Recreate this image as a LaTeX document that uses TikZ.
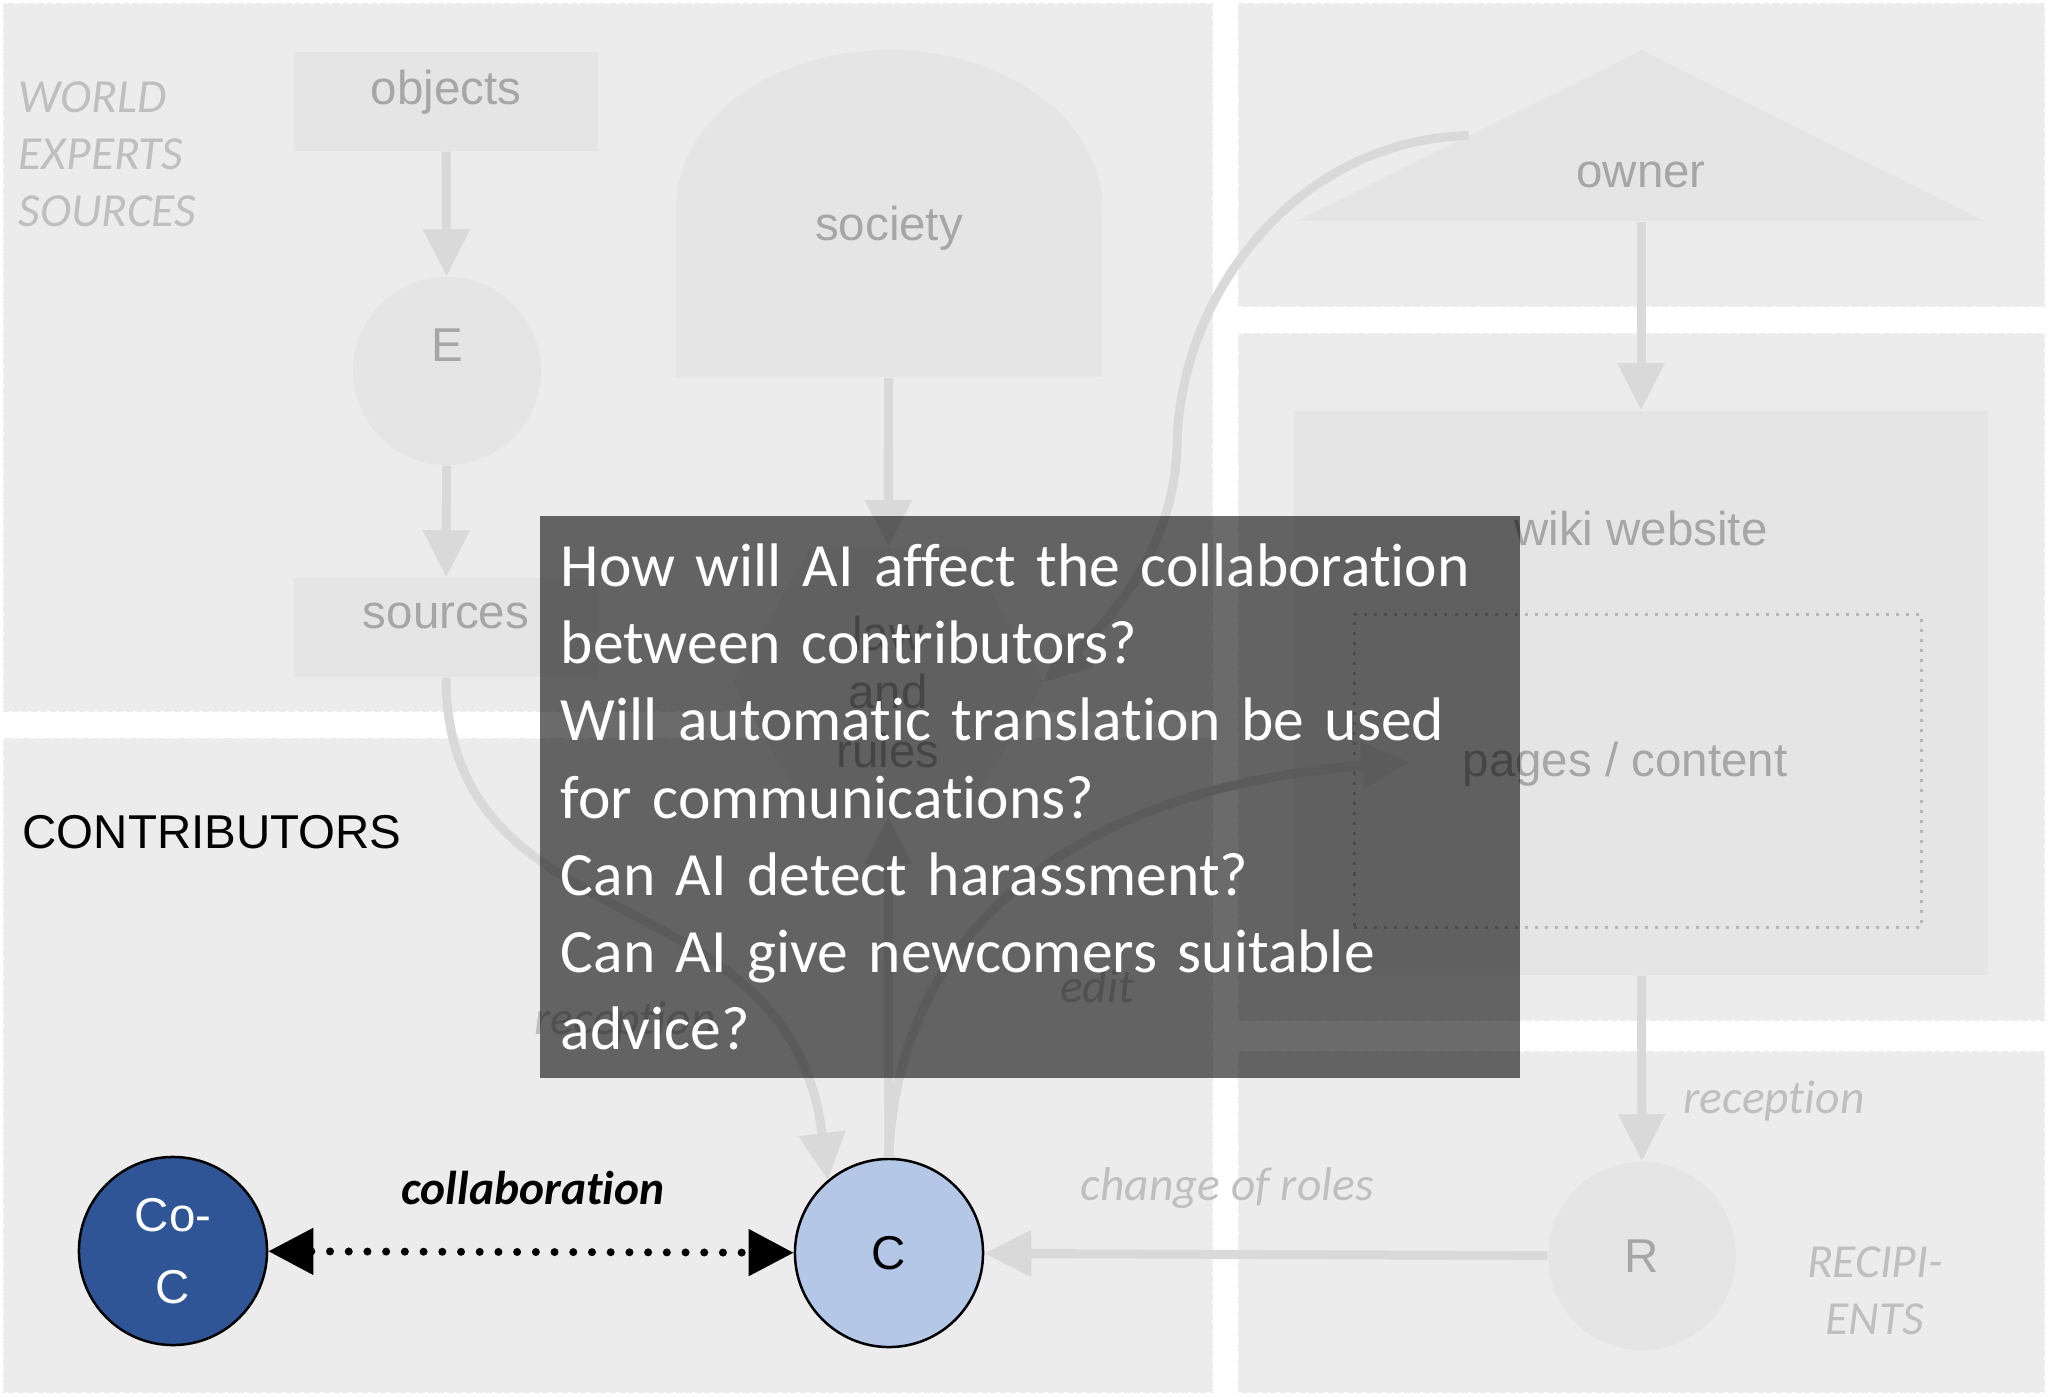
\documentclass[tikz,border=0pt]{standalone}
\usepackage{fontspec}
\setmainfont{Liberation Sans}
\newfontfamily\calibri[Ligatures=NoCommon]{Carlito}
\usetikzlibrary{arrows.meta,shapes.geometric,calc}
\definecolor{panelgray}{HTML}{ECECEC}
\definecolor{shapegray}{HTML}{E5E5E5}
\definecolor{textgray}{HTML}{A6A6A6}
\definecolor{labelgray}{HTML}{BFBFBF}
\definecolor{dotgray}{HTML}{B5B5B5}
\definecolor{arrowgray}{HTML}{D9D9D9}
\definecolor{codark}{HTML}{2F5597}
\definecolor{colight}{HTML}{B4C7E7}

\begin{document}
\begin{tikzpicture}
[x=0.01cm, y=-0.01cm,
panel/.style={fill=panelgray, draw=white, dotted, line width=0.025cm},
shapebox/.style={fill=shapegray, inner sep=0pt},
shapetext/.style={text=textgray, font=\fontsize{13.5}{16.5}\selectfont},
flow/.style={draw=arrowgray, line width=0.09cm, -{Triangle[width=0.45cm,length=0.47cm]}},
tag/.style={text=labelgray, inner sep=0pt, font=\calibri\itshape\fontsize{13.5}{16.2}\selectfont},
actor/.style={circle, draw=black, line width=0.025cm, minimum size=1.88cm, inner sep=0pt, font=\fontsize{13.5}{16}\selectfont},
collab/.style={draw=black, line width=0.08cm, line cap=round, dash pattern=on 0pt off 0.187cm,
  {Triangle[width=0.45cm,length=0.45cm]}-{Triangle[width=0.45cm,length=0.45cm]}}]
\useasboundingbox (0,0) rectangle (2048,1397);
\fill[white] (0,0) rectangle (2048,1397);

\draw[panel] (3,3) rectangle (1213,712);
\draw[panel] (3,738) rectangle (1213,1393);
\draw[panel] (1238,3) rectangle (2045,307);
\draw[panel] (1238,333) rectangle (2045,1021);
\draw[panel] (1238,1051) rectangle (2045,1393);

\node[shapebox, minimum width=3.03cm, minimum height=0.99cm, label={[shapetext, yshift=0.095cm]center:objects}] (objects) at (446,101.5) {};
\node[shapebox, circle, minimum size=1.88cm, label={[shapetext, yshift=0.26cm]center:E}] (E) at (447,371) {};
\node[shapebox, minimum width=3.03cm, minimum height=0.99cm, label={[shapetext, yshift=0.115cm]center:sources}] (sources) at (446,627.5) {};

\fill[shapegray] (676,377) -- (676,208) arc[start angle=180, end angle=0, x radius=2.13cm, y radius=1.58cm] -- (1102,377) -- cycle;
\node[minimum width=4.26cm, minimum height=3.27cm, inner sep=0pt, label={[shapetext, yshift=-0.145cm]center:society}] (society) at (889,213.5) {};
\node[shapebox, regular polygon, regular polygon sides=6, minimum size=3.1cm, label={[shapetext, align=center, yshift=-0.1cm]center:law\\and\\rules}] (law) at (888,682) {};

\fill[shapegray] (1297,221) -- (1642,50) -- (1985,221) -- cycle;
\node[minimum width=6.88cm, minimum height=1.71cm, inner sep=0pt, label={[shapetext, yshift=-0.39cm]center:owner}] (owner) at (1641,135.5) {};
\node[shapebox, minimum width=6.93cm, minimum height=5.64cm, label={[shapetext, yshift=1.64cm]center:wiki website}] (wiki) at (1641,693) {};
\node[draw=dotgray, dotted, line width=0.03cm, minimum width=5.67cm, minimum height=3.13cm, label={[shapetext, xshift=-0.13cm, yshift=0.07cm]center:pages / content}] (pages) at (1638,771) {};
\node[shapebox, circle, minimum size=1.88cm, shapetext] (R) at (1642,1256) {R};

\node[actor, fill=codark, text=white, align=center, font=\fontsize{13.5}{20.5}\selectfont] (CoC) at (173,1251) {Co-\\C};
\node[actor, fill=colight] (C) at (889,1253) {C};

\draw[flow] (objects) -- (E);
\draw[flow] (E) -- (sources);
\draw[flow] (society) -- (law);
\draw[flow] (owner) -- (wiki);
\draw[flow] (wiki) -- (R);
\draw[flow] (R) -- (C);
\draw[flow] (C) -- (law);
\draw[flow] (sources.south) .. controls (447,950) and (790,870) .. (C.130);
\draw[flow] (C.north) .. controls (895,950) and (1050,790) .. ([xshift=0.56cm,yshift=0.09cm]pages.west);
\draw[flow] ($(owner.south west)!0.5!(owner.north)$) .. controls (1300,140) and (1180,290) .. (1177,445)
  .. controls (1175,540) and (1120,610) .. (law.east);

\node[tag, align=left, anchor=west] (world) at (18,154) {WORLD\\EXPERTS\\SOURCES};
\node[tag, align=center] (recipients) at (1875,1291) {RECIPI-\\ENTS};
\node[tag] (readlabel) at (1774,1101) {reception};
\node[tag] (sourcelabel) at (625,1022) {reception};
\node[tag] (editlabel) at (1097,986) {edit};
\node[tag] (rolelabel) at (1227,1188) {change of roles};
\node[anchor=west, inner sep=0pt, font=\fontsize{13.5}{16}\selectfont] (contrib) at (22,832) {CONTRIBUTORS};

\draw[collab] (CoC) -- (C);
\node[font=\calibri\bfseries\itshape\fontsize{13.5}{16}\selectfont] (collablabel) at (533,1188) {collaboration};

\node[anchor=north west, fill=black, fill opacity=0.58, text opacity=1, text=white, minimum width=9.8cm, minimum height=5.62cm,
  text width=9.38cm, inner xsep=0.21cm, align=left, font=\calibri\fontsize{17.5}{21.9}\selectfont] (questions) at (539,515)
  {How will AI affect the collaboration\\between contributors?\\Will automatic translation be used\\for communications?\\Can AI detect harassment?\\Can AI give newcomers suitable\\advice?};
\end{tikzpicture}
\end{document}
